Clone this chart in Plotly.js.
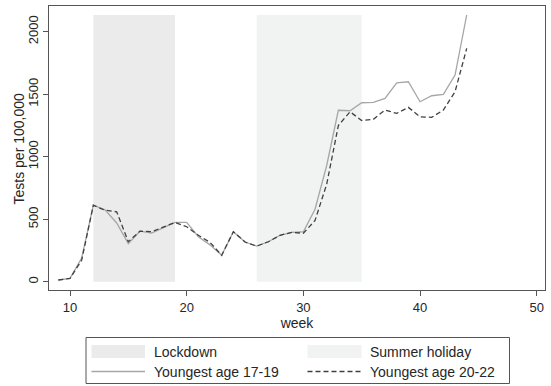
<!DOCTYPE html>
<html>
<head>
<meta charset="utf-8">
<script src="https://cdn.plot.ly/plotly-3.0.1.min.js"></script>
<style>
  html, body { margin: 0; padding: 0; background: #fff; }
  #chart { width: 551px; height: 386px; }
</style>
</head>
<body>
<div id="chart"></div>
<script>
// Weekly testing rates per 100,000, by age of the youngest member
const weeks = [9, 10, 11, 12, 13, 14, 15, 16, 17, 18, 19, 20, 21, 22, 23, 24, 25, 26,
               27, 28, 29, 30, 31, 32, 33, 34, 35, 36, 37, 38, 39, 40, 41, 42, 43, 44];
const youngest17to19 = [14, 27, 190, 612, 575, 470, 305, 405, 390, 435, 475, 475, 360, 295, 212, 400, 318, 285,
                        320, 372, 395, 400, 580, 930, 1372, 1368, 1432, 1435, 1467, 1592, 1600, 1440, 1488, 1499, 1654, 2134];
const youngest20to22 = [14, 27, 172, 612, 572, 560, 320, 405, 400, 435, 475, 440, 372, 315, 212, 400, 318, 285,
                        320, 372, 395, 388, 490, 780, 1250, 1360, 1290, 1300, 1374, 1347, 1395, 1320, 1315, 1374, 1520, 1867];

// Periods shaded behind the series
const lockdownWeeks = [12, 19];
const summerHolidayWeeks = [26, 35];

const xTicks = [10, 20, 30, 40, 50];
const yTicks = [0, 500, 1000, 1500, 2000];

const legendLabels = ["Lockdown", "Summer holiday", "Youngest age 17-19", "Youngest age 20-22"];

// Shaded bands reach up to the highest plotted rate
const bandTop = Math.max(...youngest17to19, ...youngest20to22);

const W = 551, H = 386;
const M = { l: 49, r: 6, t: 6, b: 96 };
const pw = W - M.l - M.r, ph = H - M.t - M.b;
const px = v => (v - M.l) / pw;          // page x pixel -> paper x
const py = v => (H - M.b - v) / ph;      // page y pixel -> paper y

const FONT = "Liberation Sans, Arial, sans-serif";
const textColor = "#262626";
const lockColor = "#ebebeb";
const summerColor = "#f1f2f2";
const solidColor = "#a6a6a6";
const dashColor = "#404040";

const traces = [
  {
    x: weeks, y: youngest17to19, type: "scatter", mode: "lines",
    line: { color: solidColor, width: 1.3 }, showlegend: false, hoverinfo: "skip"
  },
  {
    x: weeks, y: youngest20to22, type: "scatter", mode: "lines",
    line: { color: dashColor, width: 1.3, dash: "5px,3px" }, showlegend: false, hoverinfo: "skip"
  }
];

const shapes = [
  { type: "rect", xref: "x", yref: "y", layer: "below", x0: lockdownWeeks[0], x1: lockdownWeeks[1],
    y0: 0, y1: bandTop, fillcolor: lockColor, line: { width: 0 } },
  { type: "rect", xref: "x", yref: "y", layer: "below", x0: summerHolidayWeeks[0], x1: summerHolidayWeeks[1],
    y0: 0, y1: bandTop, fillcolor: summerColor, line: { width: 0 } },
  // legend frame
  { type: "rect", xref: "paper", yref: "paper", x0: px(86), x1: px(509.5), y0: py(383.5), y1: py(337.5),
    fillcolor: "rgba(0,0,0,0)", line: { color: "#555", width: 1 } },
  // legend keys
  { type: "rect", xref: "paper", yref: "paper", x0: px(91.5), x1: px(145), y0: py(358), y1: py(345),
    fillcolor: lockColor, line: { width: 0 } },
  { type: "rect", xref: "paper", yref: "paper", x0: px(307.5), x1: px(361.5), y0: py(358), y1: py(345),
    fillcolor: summerColor, line: { width: 0 } },
  { type: "line", xref: "paper", yref: "paper", x0: px(91.5), x1: px(145), y0: py(371.5), y1: py(371.5),
    line: { color: solidColor, width: 1.3 } },
  { type: "line", xref: "paper", yref: "paper", x0: px(307.5), x1: px(361.5), y0: py(371.5), y1: py(371.5),
    line: { color: dashColor, width: 1.3, dash: "5px,3px" } }
];

const legendText = (t, x, y) => ({
  text: t, xref: "paper", yref: "paper", x: px(x), y: py(y), xanchor: "left", yanchor: "middle",
  showarrow: false, font: { family: FONT, size: 14, color: textColor }
});

const annotations = [
  legendText(legendLabels[0], 151.5, 351.5),
  legendText(legendLabels[1], 367.5, 351.5),
  legendText(legendLabels[2], 151.5, 371.5),
  legendText(legendLabels[3], 367.5, 371.5),
  // y axis title
  { text: "Tests per 100,000", xref: "paper", yref: "paper", x: px(18.5), y: py(149),
    xanchor: "center", yanchor: "middle", textangle: -90, showarrow: false,
    font: { family: FONT, size: 14, color: textColor } }
];

const layout = {
  width: W, height: H,
  margin: M,
  paper_bgcolor: "#fff", plot_bgcolor: "#fff",
  font: { family: FONT, size: 13, color: textColor },
  showlegend: false,
  xaxis: {
    range: [8.2, 50.71], tickvals: xTicks, ticktext: xTicks.map(String),
    ticks: "outside", ticklen: 5, tickwidth: 1, tickcolor: "#555",
    showline: true, linecolor: "#555", linewidth: 1, mirror: true,
    showgrid: false, zeroline: false,
    tickfont: { size: 13, color: textColor },
    title: { text: "week", font: { size: 14, color: textColor }, standoff: 3 }
  },
  yaxis: {
    range: [-66, 2206], tickvals: yTicks, ticktext: yTicks.map(String),
    ticks: "outside", ticklen: 5, tickwidth: 1, tickcolor: "#555",
    showline: true, linecolor: "#555", linewidth: 1, mirror: true,
    showgrid: false, zeroline: false, tickangle: -90,
    tickfont: { size: 13, color: textColor }
  },
  shapes: shapes,
  annotations: annotations
};

Plotly.newPlot("chart", traces, layout, { staticPlot: true, displayModeBar: false });
</script>
</body>
</html>
